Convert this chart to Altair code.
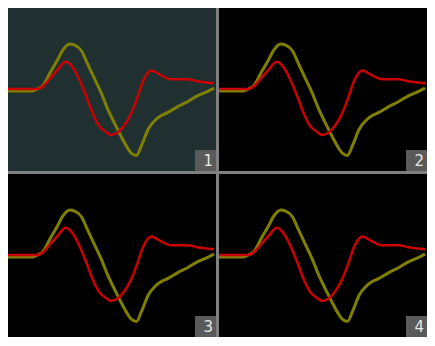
import altair as alt
import pandas as pd

# Red trace (sample position, amplitude)
red_t = [0, 30, 36, 43, 50, 59, 66, 73, 80, 86, 93, 100, 105, 111, 118, 125, 131, 138, 146, 156, 166, 175, 183, 193, 210]
red_v = [0, 0, 3, 11, 19, 28, 22, 9, -8, -24, -38, -44, -47, -45, -38, -26, -11, 9, 19, 14, 10, 10, 10, 8, 6]

# Olive trace
olive_t = [0, 25, 30, 36, 43, 50, 56, 63, 68, 75, 81, 88, 95, 101, 108, 115, 121, 126, 131, 136, 143, 150, 155, 163, 173, 183, 193, 200, 210]
olive_v = [-2, -2, 0, 4, 17, 29, 40, 46, 45, 39, 26, 11, -4, -19, -34, -48, -59, -66, -68, -58, -41, -32, -28, -24, -18, -13, -7, -4, 1]

panel_labels = ["1", "2", "3", "4"]
panel_fills = ["#203030", "#000000", "#000000", "#000000"]

W, H = 208, 163

red_df = pd.DataFrame({"t": red_t, "v": red_v})
olive_df = pd.DataFrame({"t": olive_t, "v": olive_v})

xs = alt.Scale(domain=[0, 212], nice=False, zero=False)
ys = alt.Scale(domain=[-84, 83], nice=False, zero=False)


def panel(label, fill):
    olive = alt.Chart(olive_df).mark_line(
        color="#808000", strokeWidth=3, clip=True, interpolate="monotone"
    ).encode(
        x=alt.X("t:Q", axis=None, scale=xs),
        y=alt.Y("v:Q", axis=None, scale=ys),
    )
    red = alt.Chart(red_df).mark_line(
        color="#cc0000", strokeWidth=2.5, clip=True, interpolate="monotone"
    ).encode(
        x=alt.X("t:Q", axis=None, scale=xs),
        y=alt.Y("v:Q", axis=None, scale=ys),
    )
    lab_df = pd.DataFrame({"lab": [label]})
    box = alt.Chart(lab_df).mark_rect(color="#5a5a5a").encode(
        x=alt.value(W - 21), x2=alt.value(W), y=alt.value(H - 21), y2=alt.value(H)
    )
    txt = alt.Chart(lab_df).mark_text(
        color="#e8e8e8", fontSize=15, font="DejaVu Sans", align="right", baseline="middle"
    ).encode(text="lab:N", x=alt.value(W - 3), y=alt.value(H - 10))
    return alt.layer(olive, red, box, txt).properties(
        width=W, height=H, view=alt.ViewBackground(fill=fill, strokeWidth=0)
    )


p = [panel(l, f) for l, f in zip(panel_labels, panel_fills)]

chart = alt.vconcat(
    alt.hconcat(p[0], p[1], spacing=3),
    alt.hconcat(p[2], p[3], spacing=3),
    spacing=3,
).properties(padding=0, background="#808080").configure_view(strokeWidth=0)

chart.save("out.html", embed_options={"renderer": "svg", "actions": False})
